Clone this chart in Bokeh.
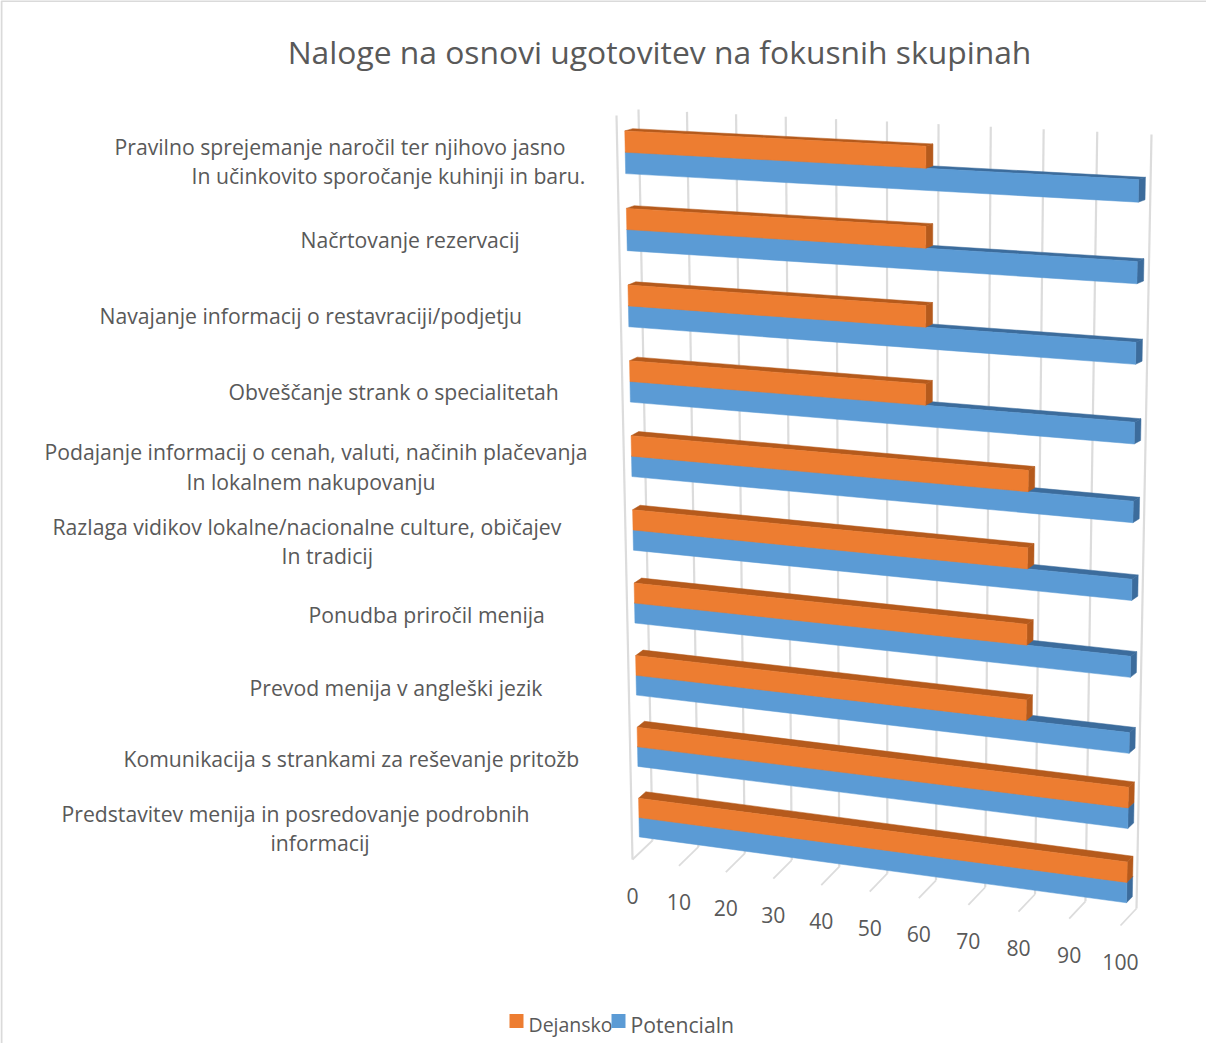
from bokeh.plotting import figure
from bokeh.models import Range1d
from bokeh.embed import file_html
from bokeh.resources import INLINE
from bokeh.core.properties import value
import numpy as np

TITLE = "Naloge na osnovi ugotovitev na fokusnih skupinah"
categories = [
    "Pravilno sprejemanje naročil ter njihovo jasno\nIn učinkovito sporočanje kuhinji in baru.",
    "Načrtovanje rezervacij",
    "Navajanje informacij o restavraciji/podjetju",
    "Obveščanje strank o specialitetah",
    "Podajanje informacij o cenah, valuti, načinih plačevanja\nIn lokalnem nakupovanju",
    "Razlaga vidikov lokalne/nacionalne culture, običajev\nIn tradicij",
    "Ponudba priročil menija",
    "Prevod menija v angleški jezik",
    "Komunikacija s strankami za reševanje pritožb",
    "Predstavitev menija in posredovanje podrobnih\ninformacij",
]
dejansko = [60, 60, 60, 60, 80, 80, 80, 80, 100, 100]
potencialno = [100, 100, 100, 100, 100, 100, 100, 100, 100, 100]
ticks = [0, 10, 20, 30, 40, 50, 60, 70, 80, 90, 100]
series_names = ["Dejansko", "Potencialn"]

# layout (page pixels)
FRONT = [(624, 123), (1140, 148), (640, 867), (1128, 933)]   # tl, tr, bl, br
BACK = [(646, 117), (1159, 142), (660, 848), (1144, 916)]
D0, D1 = 0.36, 0.72
GAP = 0.225
ORANGE, ORANGE_D = "#ED7D31", "#B55A1C"
BLUE, BLUE_D = "#5B9BD5", "#3C6C9C"
GRID = "#DCDCDC"
TEXT = "#595959"
FONT = value("Open Sans")
LABEL_SIZE = "21.2px"
LEGEND_SIZES = ["19.5px", "21.2px"]
LABEL_LINES = [  # left x and middle y of every text line
    [(122, 154), (199, 183)], [(308, 247)], [(107, 323)], [(236, 399)],
    [(52, 459), (194, 489)], [(60, 534), (289, 563)], [(316, 622)],
    [(257, 695)], [(131, 766)], [(69, 821), (278, 850)],
]


def homography(c):
    (x0, y0), (x1, y1), (x3, y3), (x2, y2) = c[0], c[1], c[2], c[3]
    dx1, dx2, sx = x1 - x2, x3 - x2, x0 - x1 + x2 - x3
    dy1, dy2, sy = y1 - y2, y3 - y2, y0 - y1 + y2 - y3
    det = dx1 * dy2 - dx2 * dy1
    g = (sx * dy2 - dx2 * sy) / det
    h = (dx1 * sy - sx * dy1) / det
    return np.array([[x1 - x0 + g * x1, x3 - x0 + h * x3, x0],
                     [y1 - y0 + g * y1, y3 - y0 + h * y3, y0],
                     [g, h, 1.0]])


HF, HB = homography(FRONT), homography(BACK)


def proj(v, t, d):
    """value v (0-100), category position t (0-1), depth d (0 front, 1 back wall)"""
    def one(H):
        q = H @ np.array([v / 100.0, t, 1.0])
        return q[:2] / q[2]
    return tuple((1 - d) * one(HF) + d * one(HB))


p = figure(width=1206, height=1043, x_range=Range1d(8, 1214), y_range=Range1d(1051, 8),
           toolbar_location=None, output_backend="svg", min_border=0,
           x_axis_location=None, y_axis_location=None,
           outline_line_color=None, background_fill_color="white")
p.grid.visible = False

# chart frame: only its top and left edges fall inside the picture
p.line([9, 9, 1214], [1051, 8.5, 8.5], line_color="#DADADA", line_width=2)

# gridlines: back wall plus floor
for v in ticks:
    p.line(*zip(proj(v, 0, 1), proj(v, 1, 1)), line_color=GRID, line_width=2.2)
    p.line(*zip(proj(v, 1, 1), proj(v, 1, 0)), line_color=GRID, line_width=1.8)
p.line(*zip(proj(0, 0, 0), proj(0, 1, 0)), line_color=GRID, line_width=2.2)


def face(pts, color):
    xs, ys = zip(*pts)
    p.patch(xs, ys, fill_color=color, line_color=color, line_width=0.5)


def box(val, t0, t1, front, dark):
    face([proj(0, t0, D0), proj(val, t0, D0), proj(val, t0, D1), proj(0, t0, D1)], dark)
    face([proj(val, t0, D0), proj(val, t0, D1), proj(val, t1, D1), proj(val, t1, D0)], dark)
    face([proj(0, t0, D0), proj(val, t0, D0), proj(val, t1, D0), proj(0, t1, D0)], front)


n = len(categories)
for i in range(n):
    a = (i + GAP) / n
    b = (i + 1 - GAP) / n
    m = (a + b) / 2
    box(potencialno[i], m, b, BLUE, BLUE_D)
    box(dejansko[i], a, m, ORANGE, ORANGE_D)

# value tick labels, below the floor's front edge
tx, ty = zip(*[proj(v, 1, 0) for v in ticks])
p.text(x=list(tx), y=[y + 36 for y in ty], text=[str(v) for v in ticks], text_align="center",
       text_baseline="middle", text_font=FONT, text_font_size=LABEL_SIZE, text_color=TEXT)

# category labels
for cat, lines in zip(categories, LABEL_LINES):
    for s, (x, y) in zip(cat.split("\n"), lines):
        p.text(x=[x], y=[y], text=[s], text_align="left", text_baseline="middle",
               text_font=FONT, text_font_size=LABEL_SIZE, text_color=TEXT)

p.text(x=[667], y=[59], text=[TITLE], text_align="center", text_baseline="middle",
       text_font=FONT, text_font_size="31.8px", text_color=TEXT)

# legend
for name, color, sx, tx0, fs in zip(series_names, [ORANGE, BLUE], [524, 626], [536, 638], LEGEND_SIZES):
    p.scatter([sx], [1028.5], marker="square", size=14, fill_color=color, line_color=None)
    p.text(x=[tx0], y=[1032], text=[name], text_align="left", text_baseline="middle",
           text_font=FONT, text_font_size=fs, text_color=TEXT)

open("out.html", "w").write(file_html(p, INLINE))
